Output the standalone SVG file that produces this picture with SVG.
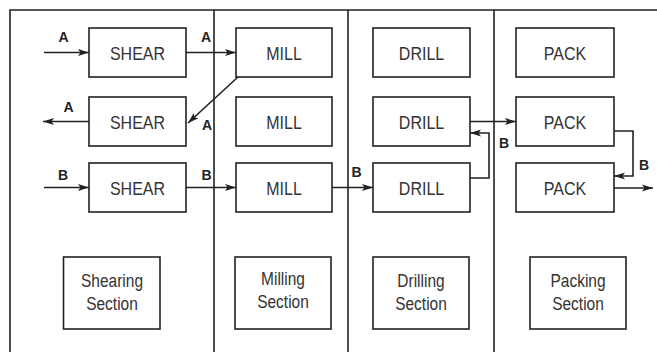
<svg xmlns="http://www.w3.org/2000/svg" width="657" height="352" viewBox="0 0 657 352">
<defs>
<style>
.box{fill:#fff;stroke:#222;stroke-width:1.6}
.frame{fill:none;stroke:#222;stroke-width:1.6}
.t{font-family:"Liberation Sans",Arial,sans-serif;font-size:16px;fill:#333;text-anchor:middle}
.s{font-family:"Liberation Sans",Arial,sans-serif;font-size:15.5px;fill:#333;text-anchor:middle}
.l{font-family:"Liberation Sans",Arial,sans-serif;font-size:14px;font-weight:bold;fill:#222;text-anchor:middle}
.c{fill:none;stroke:#222;stroke-width:1.6;marker-end:url(#ah)}
</style>
<marker id="ah" markerUnits="userSpaceOnUse" markerWidth="12" markerHeight="8" refX="11" refY="4" orient="auto">
<path d="M0,0.5 L11,4 L0,7.5 L2.5,4 z" fill="#222"/>
</marker>
</defs>
<rect width="657" height="352" fill="#fff"/>
<g id="frame">
<path class="frame" d="M10,360 V10 H670"/>
<path class="frame" d="M214,10 V360 M348,10 V360 M494,10 V360"/>
</g>
<g id="shear1"><rect class="box" x="89" y="28" width="97" height="49"/><text class="t" transform="translate(137.5,60) scale(1,1.15)">SHEAR</text></g>
<g id="shear2"><rect class="box" x="89" y="97" width="97" height="49"/><text class="t" transform="translate(137.5,129) scale(1,1.15)">SHEAR</text></g>
<g id="shear3"><rect class="box" x="89" y="163" width="97" height="49"/><text class="t" transform="translate(137.5,195) scale(1,1.15)">SHEAR</text></g>
<g id="mill1"><rect class="box" x="236" y="28" width="96" height="49"/><text class="t" transform="translate(284,60) scale(1,1.15)">MILL</text></g>
<g id="mill2"><rect class="box" x="236" y="97" width="96" height="49"/><text class="t" transform="translate(284,129) scale(1,1.15)">MILL</text></g>
<g id="mill3"><rect class="box" x="236" y="163" width="96" height="49"/><text class="t" transform="translate(284,195) scale(1,1.15)">MILL</text></g>
<g id="drill1"><rect class="box" x="373" y="28" width="97" height="49"/><text class="t" transform="translate(421.5,60) scale(1,1.15)">DRILL</text></g>
<g id="drill2"><rect class="box" x="373" y="97" width="97" height="49"/><text class="t" transform="translate(421.5,129) scale(1,1.15)">DRILL</text></g>
<g id="drill3"><rect class="box" x="373" y="163" width="97" height="49"/><text class="t" transform="translate(421.5,195) scale(1,1.15)">DRILL</text></g>
<g id="pack1"><rect class="box" x="516" y="28" width="98" height="49"/><text class="t" transform="translate(565,60) scale(1,1.15)">PACK</text></g>
<g id="pack2"><rect class="box" x="516" y="97" width="98" height="49"/><text class="t" transform="translate(565,129) scale(1,1.15)">PACK</text></g>
<g id="pack3"><rect class="box" x="516" y="163" width="98" height="49"/><text class="t" transform="translate(565,195) scale(1,1.15)">PACK</text></g>
<g id="sec-shearing"><rect class="box" x="63.5" y="257" width="96.5" height="72"/><text class="s" transform="translate(112,287) scale(1,1.15)">Shearing</text><text class="s" transform="translate(112,310) scale(1,1.15)">Section</text></g>
<g id="sec-milling"><rect class="box" x="235" y="257" width="96" height="72"/><text class="s" transform="translate(283,285) scale(1,1.15)">Milling</text><text class="s" transform="translate(283,308) scale(1,1.15)">Section</text></g>
<g id="sec-drilling"><rect class="box" x="373" y="257" width="96" height="72"/><text class="s" transform="translate(421,287) scale(1,1.15)">Drilling</text><text class="s" transform="translate(421,310) scale(1,1.15)">Section</text></g>
<g id="sec-packing"><rect class="box" x="530" y="257" width="96" height="72"/><text class="s" transform="translate(578,287) scale(1,1.15)">Packing</text><text class="s" transform="translate(578,310) scale(1,1.15)">Section</text></g>
<g id="connectors">
<path class="c" d="M44,52.5 H89"/>
<path class="c" d="M186,52.5 H236"/>
<path class="c" d="M238,77 L188,123"/>
<path class="c" d="M89,121.5 H43"/>
<path class="c" d="M44,187.5 H89"/>
<path class="c" d="M186,187.5 H236"/>
<path class="c" d="M332,187.5 H373"/>
<path class="c" d="M470,178 H489 V133 H470"/>
<path class="c" d="M470,121.5 H516"/>
<path class="c" d="M614,131 H633 V176 H614"/>
<path class="c" d="M614,188 H653"/>
<text class="l" x="63.5" y="42">A</text>
<text class="l" x="206" y="42">A</text>
<text class="l" x="207" y="130">A</text>
<text class="l" x="68.5" y="112">A</text>
<text class="l" x="63" y="180">B</text>
<text class="l" x="206.5" y="180">B</text>
<text class="l" x="356.5" y="177">B</text>
<text class="l" x="504" y="148">B</text>
<text class="l" x="644" y="170">B</text>
</g>
</svg>
